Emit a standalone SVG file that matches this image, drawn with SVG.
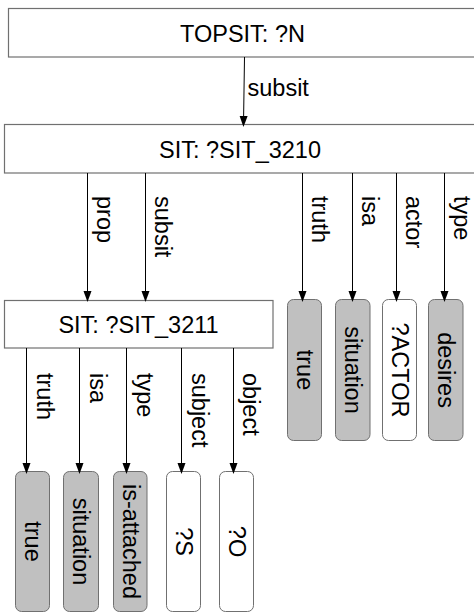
<svg xmlns="http://www.w3.org/2000/svg" width="474" height="612" viewBox="0 0 474 612">
<defs>
<marker id="ah" markerWidth="11" markerHeight="15" refX="11" refY="5.5" orient="auto" markerUnits="userSpaceOnUse" viewBox="0 0 15 11">
<path d="M0,0 L15,5.5 L0,11 Z" fill="#000"/>
</marker>
<style>
.box{fill:#fff;stroke:#707070;stroke-width:1.2}
.g{fill:#c0c0c0;stroke:#707070;stroke-width:1}
.w{fill:#fff;stroke:#707070;stroke-width:1}
.t{font-family:"Liberation Sans",Arial,sans-serif;font-size:23.5px;fill:#000}
.c{text-anchor:middle;dominant-baseline:central}
.e{stroke:#000;stroke-width:1;fill:none;marker-end:url(#ah)}
</style>
</defs>
<g id="topsit">
<rect class="box" x="8.5" y="8.5" width="470" height="48.5"/>
<text class="t" x="242.5" y="41.5" text-anchor="middle">TOPSIT: ?N</text>
</g>
<g id="sit3210">
<rect class="box" x="4.5" y="124.5" width="472" height="48.5"/>
<text class="t" x="240" y="157.5" text-anchor="middle">SIT: ?SIT_3210</text>
</g>
<g id="sit3211">
<rect class="box" x="4.5" y="300.5" width="268.5" height="47.5"/>
<text class="t" x="138.5" y="332.5" text-anchor="middle">SIT: ?SIT_3211</text>
</g>
<g id="r-true"><rect class="g" x="287.5" y="299.5" width="34" height="141" rx="6"/><text class="t c" transform="translate(304.5,370) rotate(90)">true</text></g>
<g id="r-situation"><rect class="g" x="335.5" y="299.5" width="34.5" height="141" rx="6"/><text class="t c" transform="translate(352.5,370) rotate(90)">situation</text></g>
<g id="r-actor"><rect class="w" x="382.5" y="299.5" width="34" height="141" rx="6"/><text class="t c" transform="translate(399.5,370) rotate(90)">?ACTOR</text></g>
<g id="r-desires"><rect class="g" x="428.5" y="299.5" width="34.5" height="141" rx="6"/><text class="t c" transform="translate(445.5,370) rotate(90)">desires</text></g>
<g id="b-true"><rect class="g" x="15.5" y="471.5" width="34" height="140" rx="6"/><text class="t c" transform="translate(32.5,541.5) rotate(90)">true</text></g>
<g id="b-situation"><rect class="g" x="63.5" y="471.5" width="35" height="140" rx="6"/><text class="t c" transform="translate(81,541.5) rotate(90)">situation</text></g>
<g id="b-isattached"><rect class="g" x="113.5" y="471.5" width="33.5" height="140" rx="6"/><text class="t c" transform="translate(130.5,541.5) rotate(90)">is-attached</text></g>
<g id="b-s"><rect class="w" x="166.5" y="471.5" width="34" height="140" rx="6"/><text class="t c" transform="translate(183.5,541.5) rotate(90)">?S</text></g>
<g id="b-o"><rect class="w" x="219.5" y="471.5" width="34" height="140" rx="6"/><text class="t c" transform="translate(236.5,541.5) rotate(90)">?O</text></g>
<g id="connectors">
<path class="e" d="M244.5,57 L243.5,124"/>
<text class="t" x="247.5" y="96">subsit</text>
<path class="e" d="M87.5,173 V299"/>
<path class="e" d="M145.5,173 V299"/>
<path class="e" d="M302.5,173 V299"/>
<path class="e" d="M352.5,173 V299"/>
<path class="e" d="M396.5,173 V299"/>
<path class="e" d="M444.5,173 V299"/>
<text class="t" transform="translate(97,196) rotate(90)">prop</text>
<text class="t" transform="translate(155,196) rotate(90)">subsit</text>
<text class="t" transform="translate(312,196) rotate(90)">truth</text>
<text class="t" transform="translate(362,196) rotate(90)">isa</text>
<text class="t" transform="translate(406,196) rotate(90)">actor</text>
<text class="t" transform="translate(454,196) rotate(90)">type</text>
<path class="e" d="M26.5,348 V471"/>
<path class="e" d="M79.5,348 V471"/>
<path class="e" d="M126.5,348 V471"/>
<path class="e" d="M181.5,348 V471"/>
<path class="e" d="M233.5,348 V471"/>
<text class="t" transform="translate(37,373) rotate(90)">truth</text>
<text class="t" transform="translate(90,373) rotate(90)">isa</text>
<text class="t" transform="translate(137,373) rotate(90)">type</text>
<text class="t" transform="translate(192,373) rotate(90)">subject</text>
<text class="t" transform="translate(243,373) rotate(90)">object</text>
</g>
</svg>
